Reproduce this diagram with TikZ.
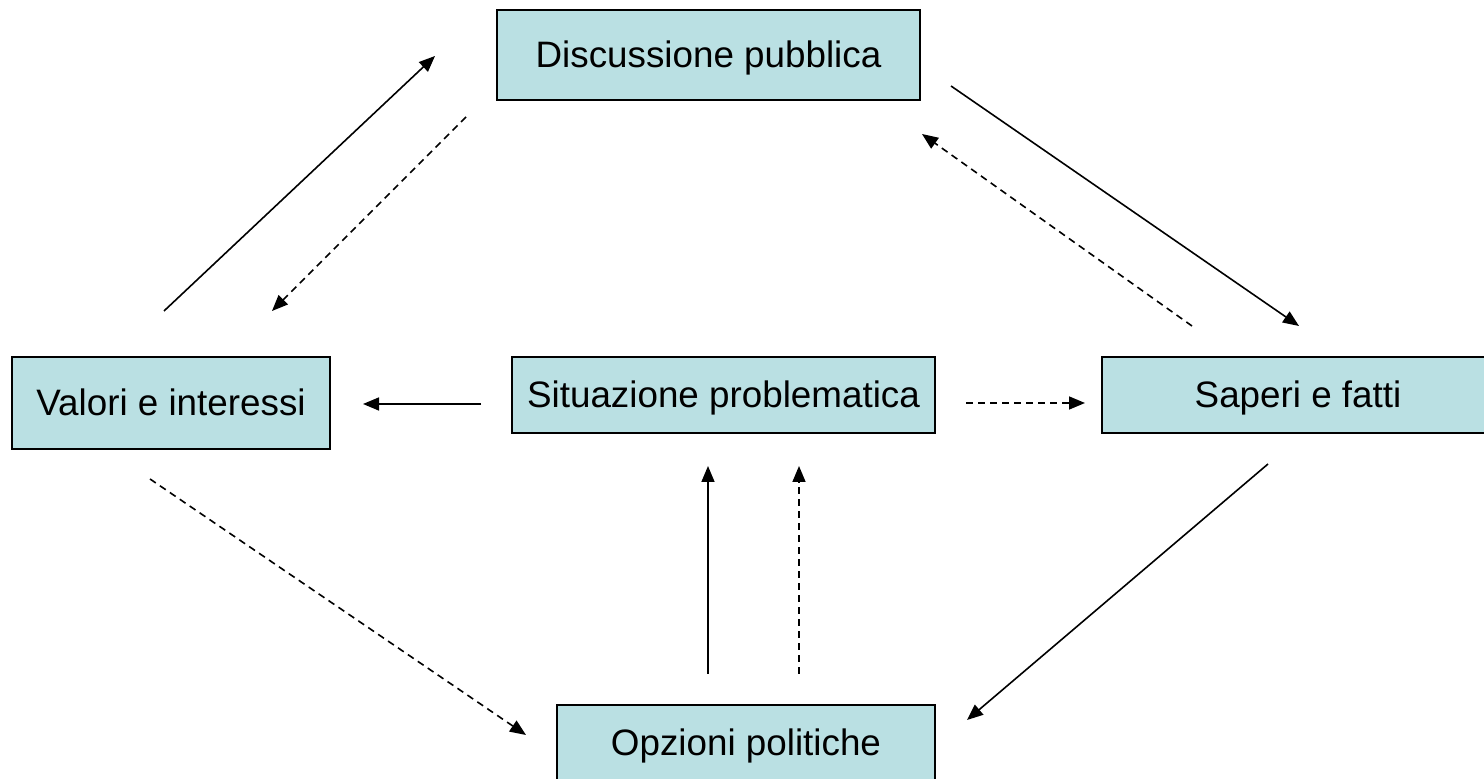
\documentclass[tikz,border=0pt]{standalone}
\usepackage{fontspec}
\setmainfont{Liberation Sans}
\usetikzlibrary{arrows.meta}
\definecolor{boxfill}{RGB}{186,224,227}
\tikzset{
	box/.style={draw, line width=1pt, fill=boxfill, inner sep=0pt, text height=13.5pt, text depth=0.5pt, font=\fontsize{18.4}{22}\selectfont},
	arr/.style={line width=0.8pt, -{Triangle[length=8pt,width=6.5pt]}},
	dasharr/.style={arr, dash pattern=on 3.5pt off 2.5pt}
}
\begin{document}
\begin{tikzpicture}[x=0.5pt,y=-0.5pt]
		\useasboundingbox (0,0) rectangle (1484,779);
		\clip (0,0) rectangle (1484,779);
		\node (disc)[box, minimum width=211.5pt, minimum height=45pt] at (708.5,55) {Discussione pubblica};
		\node (val)[box, minimum width=159pt, minimum height=46pt] at (171,403) {Valori e interessi};
		\node (sit)[box, minimum width=211.5pt, minimum height=38pt] at (723.5,395) {Situazione problematica};
		\node (sap)[box, minimum width=196pt, minimum height=38pt] at (1298,395) {Saperi e fatti};
		\node (opz)[box, minimum width=189pt, minimum height=38pt] at (746,743) {Opzioni politiche};
		% upper triangle
		\draw[arr] ([shift={(-7,-45)}]val.north)--([shift={(-61,1)}]disc.west);
		\draw[dasharr] ([shift={(-30,16)}]disc.south west)--([shift={(-59,-45)}]val.north east);
		\draw[arr] ([shift={(30,31)}]disc.east)--([shift={(1,-30)}]sap.north);
		\draw[dasharr] ([shift={(-106,-30)}]sap.north)--([shift={(1,33)}]disc.south east);
		% middle row
		\draw[arr] ([shift={(-30,9)}]sit.west)--([shift={(32,1)}]val.east);
		\draw[dasharr] ([shift={(30,8)}]sit.east)--([shift={(-16,8)}]sap.west);
		% lower triangle
		\draw[arr] ([shift={(-30,30)}]sap.south)--([shift={(31,-23)}]opz.east);
		\draw[dasharr] ([shift={(-21,29)}]val.south)--([shift={(-30,-8)}]opz.west);
		\draw[arr] ([shift={(-38,-30)}]opz.north)--([shift={(-15.5,32)}]sit.south);
		\draw[dasharr] ([shift={(53,-30)}]opz.north)--([shift={(75.5,32)}]sit.south);
	\end{tikzpicture}
\end{document}
